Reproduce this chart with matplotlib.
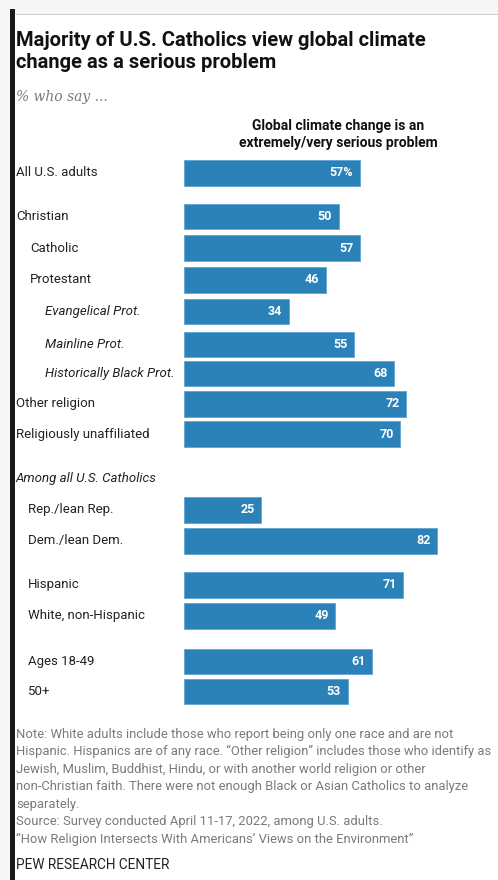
import matplotlib
matplotlib.use("Agg")
from matplotlib import pyplot as plt
from matplotlib.patches import Rectangle
from matplotlib.transforms import blended_transform_factory

W, H = 498, 880

groups = ["All U.S. adults", "Christian", "Catholic", "Protestant",
          "Evangelical Prot.", "Mainline Prot.", "Historically Black Prot.",
          "Other religion", "Religiously unaffiliated",
          "Rep./lean Rep.", "Dem./lean Dem.", "Hispanic", "White, non-Hispanic",
          "Ages 18-49", "50+"]
values = [57, 50, 57, 46, 34, 55, 68, 72, 70, 25, 82, 71, 49, 61, 53]

# row slots (one slot ~31px), with gaps between blocks
rows = [0, 1.39, 2.42, 3.45, 4.48, 5.52, 6.48, 7.45, 8.42,
        10.87, 11.87, 13.29, 14.29, 15.77, 16.74]
indent = [16, 16, 30, 30, 45, 45, 45, 16, 16, 28, 28, 28, 28, 28, 28]
italic = [False, False, False, False, True, True, True, False, False,
          False, False, False, False, False, False]

note_lines = [
    "Note: White adults include those who report being only one race and are not",
    "Hispanic. Hispanics are of any race. \u201cOther religion\u201d includes those who identify as",
    "Jewish, Muslim, Buddhist, Hindu, or with another world religion or other",
    "non-Christian faith. There were not enough Black or Asian Catholics to analyze",
    "separately.",
    "Source: Survey conducted April 11-17, 2022, among U.S. adults.",
    "\u201cHow Religion Intersects With Americans\u2019 Views on the Environment\u201d",
]

BLUE = "#2b82b8"
FONT = "Roboto"

fig = plt.figure(figsize=(W / 100, H / 100), dpi=100)
fig.patch.set_facecolor("white")


def fx(px):
    return px / W


def fy(py):
    return 1 - py / H


# page frame: light gray margin, dark rule on the left, thin line on top
fig.patches.append(Rectangle((0, fy(14)), 1, 14 / H, transform=fig.transFigure,
                             facecolor="#f7f7f7", edgecolor="none", zorder=0))
fig.patches.append(Rectangle((0, 0), fx(10), 1, transform=fig.transFigure,
                             facecolor="#f7f7f7", edgecolor="none", zorder=0))
fig.patches.append(Rectangle((fx(16), fy(15.5)), 1, 1.5 / H, transform=fig.transFigure,
                             facecolor="#cfcfcf", edgecolor="none", zorder=1))
fig.patches.append(Rectangle((fx(10), 0), fx(5), fy(9), transform=fig.transFigure,
                             facecolor="#1a1a1a", edgecolor="none", zorder=2))

# title and subtitle
fig.text(fx(16), fy(40), "Majority of U.S. Catholics view global climate",
         fontsize=14.5, fontweight="bold", family=FONT, color="#111111", va="center")
fig.text(fx(16), fy(63), "change as a serious problem",
         fontsize=14.5, fontweight="bold", family=FONT, color="#111111", va="center")
fig.text(fx(16), fy(97), "% who say ...", fontsize=10, style="italic",
         family="DejaVu Serif", color="#7a7a7a", va="center")

# column header
fig.text(fx(338), fy(126), "Global climate change is an", fontsize=10,
         fontweight="bold", family=FONT, color="#111111", ha="center", va="center")
fig.text(fx(338), fy(143), "extremely/very serious problem", fontsize=10,
         fontweight="bold", family=FONT, color="#111111", ha="center", va="center")

# bars
top_px, bot_px = 160, 705
ax = fig.add_axes([fx(184), fy(bot_px), 309 / W, (bot_px - top_px) / H])
ax.barh(rows, values, height=0.81, color=BLUE, edgecolor="#5ea6d3", linewidth=0.6)
ax.set_xlim(0, 100)
ax.set_ylim((bot_px - 173) / 31, (top_px - 173) / 31)
ax.axis("off")

for i, (y, v) in enumerate(zip(rows, values)):
    txt = f"{v}%" if i == 0 else str(v)
    ax.text(v - 2.2, y, txt, ha="right", va="center", color="white",
            fontsize=9, fontweight="bold", family=FONT)

lab = blended_transform_factory(fig.transFigure, ax.transData)
for name, y, x, it in zip(groups, rows, indent, italic):
    ax.text(fx(x), y, name, transform=lab, ha="left", va="center",
            fontsize=9.5, family=FONT, color="#222222",
            style="italic" if it else "normal", clip_on=False)

ax.text(fx(16), 9.84, "Among all U.S. Catholics", transform=lab, ha="left",
        va="center", fontsize=9.5, family=FONT, style="italic", color="#222222")

# notes and source
for k, line in enumerate(note_lines):
    fig.text(fx(16), fy(734 + k * 17.5), line, fontsize=9.4, family=FONT,
             color="#7a7a7a", va="center")
fig.text(fx(16), fy(865), "PEW RESEARCH CENTER", fontsize=9.8, family=FONT,
         color="#222222", va="center")

fig.savefig("out.png", dpi=100)
